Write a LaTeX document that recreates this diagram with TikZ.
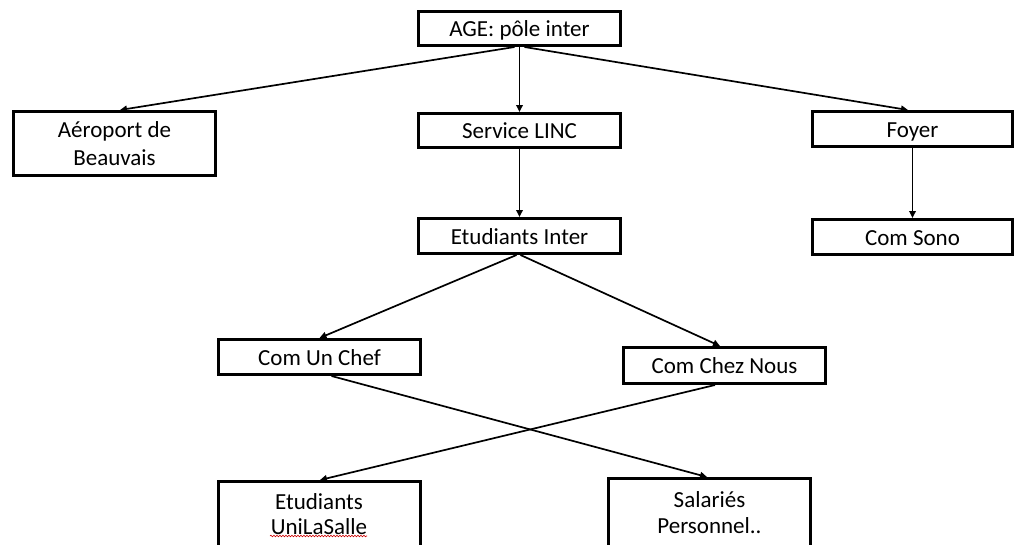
\documentclass[tikz,border=0pt]{standalone}
\usepackage{fontspec}
\setmainfont{Carlito}
\usetikzlibrary{arrows.meta,decorations.pathmorphing}
\begin{document}
\begin{tikzpicture}[x=1pt,y=-1pt,
  box/.style={draw=black,line width=3pt,fill=white,inner sep=0pt,align=center,
    font=\fontsize{23}{26}\selectfont,minimum width=202pt,minimum height=#1},
  box/.default=34pt,
  one/.style={text height=19pt,text depth=3pt},
  arr/.style={line width=1.7pt,-{Triangle[length=7pt,width=6.5pt]}}]
\useasboundingbox (0,0) rectangle (1015,544);
\node[box,one] (AGE) at (519.5,28.5) {AGE: pôle inter};
\node[box=64pt,font=\fontsize{23}{28}\selectfont] (Aero) at (114.5,143.5) {Aéroport de\\Beauvais};
\node[box,one] (Service) at (519.5,130.5) {Service LINC};
\node[box=35pt,one] (EtInter) at (519.5,236) {Etudiants Inter};
\node[box=35pt,one,minimum width=200pt] (Foyer) at (912.5,129) {Foyer};
\node[box=35pt,one,minimum width=200pt] (ComSono) at (912.5,237) {Com Sono};
\node[box=35pt,one] (ComUnChef) at (319.5,357) {Com Un Chef};
\node[box=36pt,one] (ComChezNous) at (724.5,365.5) {Com Chez Nous};
\node[box=65pt,font=\fontsize{23}{25}\selectfont] (EtUni) at (319,514) {Etudiants\\UniLaSalle};
\node[box=68pt,font=\fontsize{23}{26}\selectfont] (Salaries) at (709.5,512.5) {Salariés\\Personnel..};
\draw[arr] ([xshift=-5pt]AGE.south) -- ([xshift=5.5pt]Aero.north);
\draw[arr] (AGE.south) -- (Service.north);
\draw[arr] ([xshift=5pt]AGE.south) -- ([xshift=-4.5pt]Foyer.north);
\draw[arr] (Service.south) -- (EtInter.north);
\draw[arr] (Foyer.south) -- (ComSono.north);
\draw[arr] ([xshift=-3pt]EtInter.south) -- (ComUnChef.north);
\draw[arr] ([xshift=1pt]EtInter.south) -- ([xshift=-4.5pt]ComChezNous.north);
\draw[arr] ([xshift=12pt]ComUnChef.south) -- ([xshift=-2.5pt]Salaries.north);
\draw[arr] ([xshift=-9.5pt]ComChezNous.south) -- ([xshift=1pt]EtUni.north);
\draw[red!80!black,line width=0.6pt,decorate,decoration={snake,amplitude=0.8pt,segment length=3pt}] (270,536) -- (367,536);
\end{tikzpicture}
\end{document}
